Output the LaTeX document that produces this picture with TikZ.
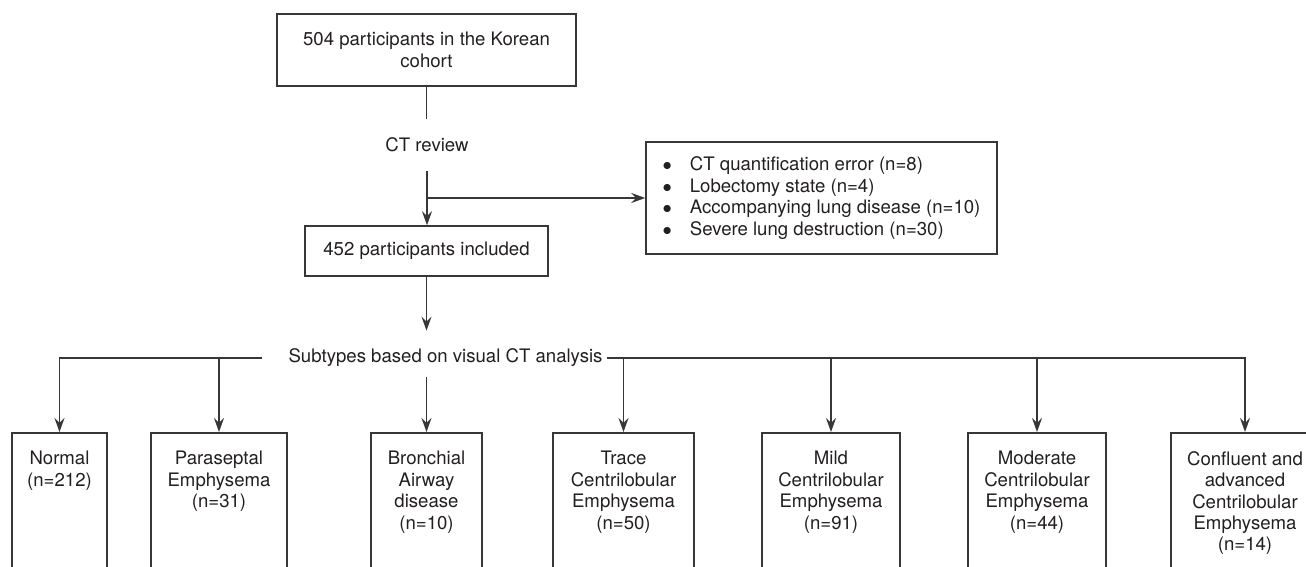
\documentclass[tikz,border=0pt]{standalone}
\usepackage{fontspec}
\setmainfont{TeX Gyre Heros}
\usetikzlibrary{arrows.meta}
\definecolor{inkc}{RGB}{35,31,32}
\definecolor{linec}{RGB}{55,55,55}
\newcommand{\bulitem}{$\bullet$\hspace{9pt}}

\begin{document}
\begin{tikzpicture}[x=0.5pt,y=0.5pt,yscale=-1,xscale=1,
  every node/.style={font=\fontsize{9.3}{10.7}\selectfont, text=inkc},
  box/.style={draw=linec, line width=0.75pt, align=center, inner sep=0pt},
  subbox/.style={draw=linec, line width=0.75pt, anchor=north, minimum height=80pt, inner sep=0pt},
  inlbl/.style={anchor=north, align=center, inner sep=0pt, yshift=-9.5pt},
  conn/.style={draw=linec, line width=0.75pt},
  arr/.style={conn, -{Stealth[length=7pt,width=5pt,inset=2.5pt]}}]
    \useasboundingbox (0,0) rectangle (1306,567);
    \clip (0,0) rectangle (1306,567);

    %Shape: Rectangle [cohort]
    \node[box, minimum width=149.5pt, minimum height=36pt] (cohort) at (426.5,50) {504 participants in the Korean\\cohort};
    % Text Node
    \node[inner ysep=9pt] (ctrev) at (427,145) {CT review};
    %Shape: Rectangle [included]
    \node[box, minimum width=121.5pt, minimum height=25pt] (incl) at (426.5,251) {452 participants included};
    %Shape: Rectangle [excluded]
    \node[box, minimum width=175.5pt, minimum height=56pt, align=left] (excl) at (821.5,198)
      {\bulitem CT quantification error (n=8)\\
       \bulitem Lobectomy state (n=4)\\
       \bulitem Accompanying lung disease (n=10)\\
       \bulitem Severe lung destruction (n=30)};
    % Text Node
    \node[inner xsep=2pt, inner ysep=5pt] (subt) at (445.5,358) {Subtypes based on visual CT analysis};

    %Shape: Rectangles [subtypes]
    \node[subbox, minimum width=47.5pt, label={[inlbl]north:{Normal\\(n=212)}}] (normal) at (59.5,432) {};
    \node[subbox, minimum width=68pt, label={[inlbl]north:{Paraseptal\\Emphysema\\(n=31)}}] (parasep) at (219,432) {};
    \node[subbox, minimum width=55.5pt, label={[inlbl]north:{Bronchial\\Airway\\disease\\(n=10)}}] (bronch) at (426.5,432) {};
    \node[subbox, minimum width=70.5pt, label={[inlbl]north:{Trace\\Centrilobular\\Emphysema\\(n=50)}}] (trace) at (623.5,432) {};
    \node[subbox, minimum width=69pt, label={[inlbl]north:{Mild\\Centrilobular\\Emphysema\\(n=91)}}] (mild) at (831,432) {};
    \node[subbox, minimum width=69pt, label={[inlbl]north:{Moderate\\Centrilobular\\Emphysema\\(n=44)}}] (moder) at (1037,432) {};
    \node[subbox, minimum width=74pt, label={[inlbl]north:{Confluent and\\advanced\\Centrilobular\\Emphysema\\(n=14)}}] (confl) at (1245,432) {};

    %Straight Lines
    \coordinate (brk) at (427,198);
    \draw[conn] (cohort.south) -- (cohort.south |- ctrev.north);
    \draw[arr] (ctrev.south) -- (ctrev.south |- incl.north);
    \draw[arr] (brk) -- (brk -| excl.west);
    \draw[arr, shorten >=4pt] (incl.south) -- (incl.south |- subt.north);
    \draw[arr] (bronch.north |- subt.south) -- (bronch.north);
    % left branch
    \draw[arr] ([xshift=-11pt]subt.west) -| (normal.north);
    \draw[arr] (parasep.north |- subt.west) -- (parasep.north);
    % right branch
    \draw[arr] (subt.east) -| (confl.north);
    \draw[arr] (trace.north |- subt.east) -- (trace.north);
    \draw[arr] (mild.north |- subt.east) -- (mild.north);
    \draw[arr] (moder.north |- subt.east) -- (moder.north);
\end{tikzpicture}
\end{document}
